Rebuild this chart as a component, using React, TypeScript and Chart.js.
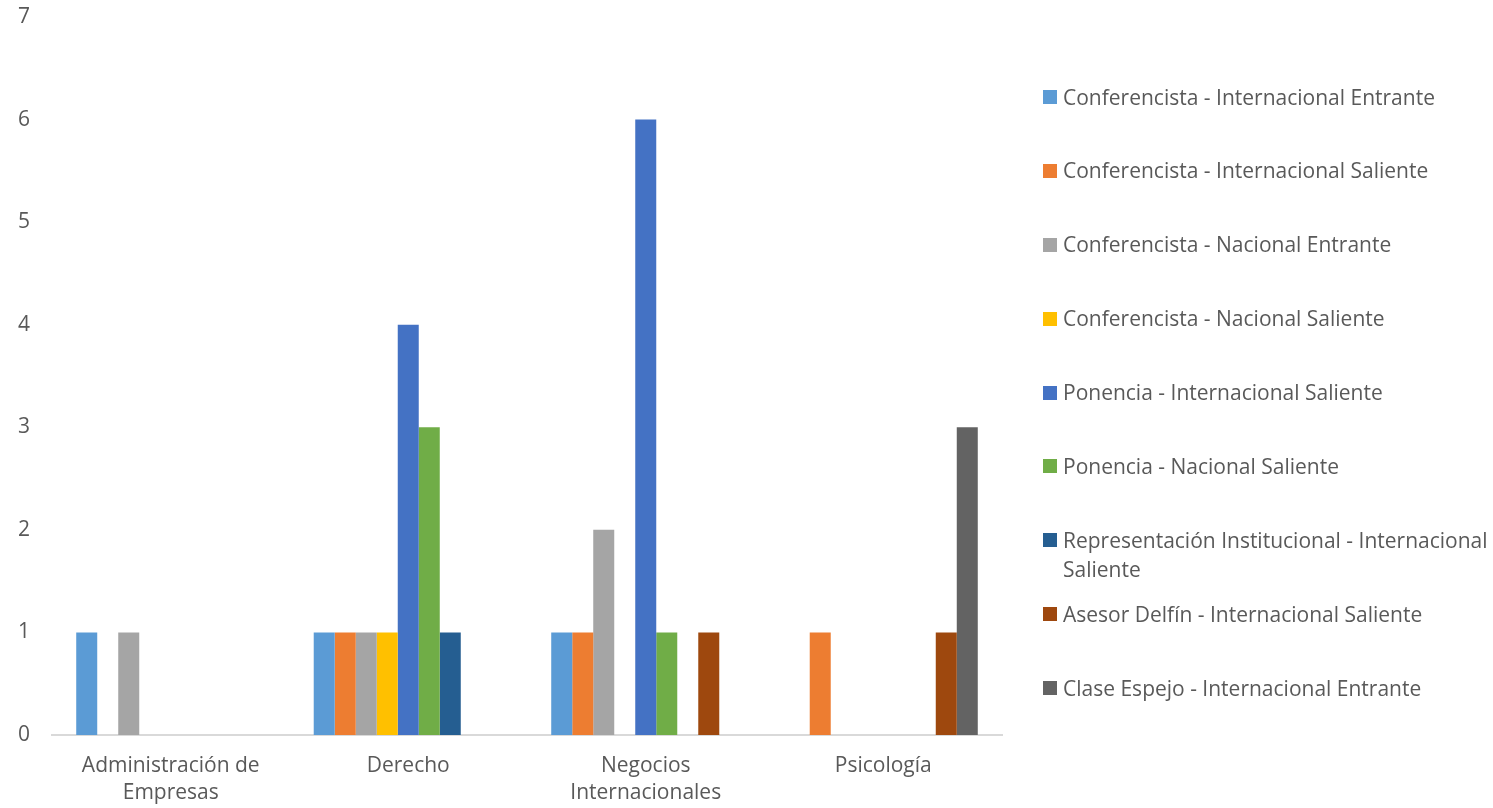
import React, { useEffect, useRef } from "react";
import { Chart, registerables } from "chart.js";

Chart.register(...registerables);

const categories = [["Administración de", "Empresas"], ["Derecho"], ["Negocios", "Internacionales"], ["Psicología"]];

const seriesNames = [
  "Conferencista - Internacional Entrante",
  "Conferencista - Internacional Saliente",
  "Conferencista - Nacional Entrante",
  "Conferencista - Nacional Saliente",
  "Ponencia - Internacional Saliente",
  "Ponencia - Nacional Saliente",
  "Representación Institucional - Internacional Saliente",
  "Asesor Delfín - Internacional Saliente",
  "Clase Espejo - Internacional Entrante",
];

const seriesColors = ["#5B9BD5", "#ED7D31", "#A5A5A5", "#FFC000", "#4472C4", "#70AD47", "#255E91", "#9E480E", "#636363"];

const confIntEntrante = [1, 1, 1, 0];
const confIntSaliente = [0, 1, 1, 1];
const confNacEntrante = [1, 1, 2, 0];
const confNacSaliente = [0, 1, 0, 0];
const ponIntSaliente = [0, 4, 6, 0];
const ponNacSaliente = [0, 3, 1, 0];
const repInstIntSaliente = [0, 1, 0, 0];
const asesorDelfinIntSaliente = [0, 0, 1, 1];
const claseEspejoIntEntrante = [0, 0, 0, 3];

const seriesValues = [
  confIntEntrante,
  confIntSaliente,
  confNacEntrante,
  confNacSaliente,
  ponIntSaliente,
  ponNacSaliente,
  repInstIntSaliente,
  asesorDelfinIntSaliente,
  claseEspejoIntEntrante,
];

const yTicks = [0, 1, 2, 3, 4, 5, 6, 7];

const FONT = "'Open Sans', sans-serif";
const TEXT = "#595959";
const FS = 21;

export default function App() {
  const ref = useRef<HTMLCanvasElement | null>(null);

  useEffect(() => {
    if (!ref.current) return;
    const chart = new Chart(ref.current, {
      type: "bar",
      data: {
        labels: categories,
        datasets: seriesNames.map((name, i) => ({
          label: name,
          data: seriesValues[i],
          backgroundColor: seriesColors[i],
          borderWidth: 0,
          categoryPercentage: 0.796,
          barPercentage: 1,
        })),
      },
      options: {
        responsive: false,
        animation: false,
        layout: { padding: { left: 0, right: 491, top: 17, bottom: 0 } },
        plugins: { legend: { display: false }, tooltip: { enabled: false } },
        scales: {
          x: {
            grid: { display: false, drawTicks: false },
            border: { display: true, color: "#D9D9D9", width: 2 },
            ticks: {
              color: TEXT,
              font: { family: FONT, size: FS, lineHeight: 27 / FS },
              padding: 18,
              maxRotation: 0,
              autoSkip: false,
            },
            afterFit: (s: any) => {
              s.height = 73;
            },
          },
          y: {
            min: 0,
            max: 7,
            afterBuildTicks: (s: any) => {
              s.ticks = yTicks.map((v) => ({ value: v }));
            },
            grid: { display: false, drawTicks: false },
            border: { display: false },
            ticks: {
              color: TEXT,
              font: { family: FONT, size: FS },
              padding: 22,
            },
            afterFit: (s: any) => {
              s.width = 52;
              s.paddingTop = 0;
              s.paddingBottom = 0;
            },
          },
        },
      },
    });
    return () => chart.destroy();
  }, []);

  return (
    <div style={{ position: "fixed", left: 0, top: 0, width: 1493, height: 808, background: "#fff" }}>
      <canvas ref={ref} width={1493} height={808} style={{ position: "absolute", left: 0, top: 0 }} />
      <div style={{ position: "absolute", left: 1043, top: 82.5, width: 450 }}>
        {seriesNames.map((name, i) => (
          <div key={name} style={{ height: 73.9, display: "flex", alignItems: "flex-start" }}>
            <div style={{ width: 14, height: 14, marginTop: 7.5, background: seriesColors[i], flex: "0 0 auto" }} />
            <div
              style={{
                marginLeft: 6,
                width: 440,
                flex: "0 0 auto",
                fontFamily: FONT,
                fontSize: FS,
                lineHeight: "29px",
                color: TEXT,
                whiteSpace: "normal",
              }}
            >
              {name}
            </div>
          </div>
        ))}
      </div>
    </div>
  );
}
